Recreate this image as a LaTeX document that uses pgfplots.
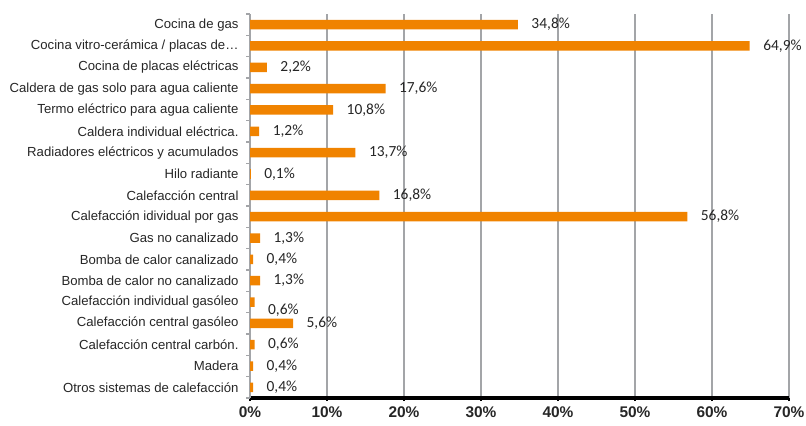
\documentclass[border=0pt]{standalone}
\usepackage{fontspec}
\setmainfont{Liberation Sans}
\newfontfamily\valfont{Carlito}
\usepackage{pgfplots}
\usepackage{pgfplotstable}
\pgfplotsset{compat=1.18}
\definecolor{barorange}{HTML}{F08300}
\definecolor{gridgray}{HTML}{A3A5A8}
\definecolor{txt}{HTML}{262626}

% y = position (top row = 17), x = share in %, dy = vertical nudge of the value label
\pgfplotstableread{
y x dy
17 34.8 0
16 64.9 0
15 2.2 0
14 17.6 0
13 10.8 0
12 1.2 0
11 13.7 0
10 0.1 0
9 16.8 0
8 56.8 0
7 1.3 0
6 0.4 0
5 1.3 0
4 0.6 -8
3 5.6 0
2 0.6 0
1 0.4 0
0 0.4 0
}\datatable

\begin{document}
\begin{tikzpicture}
\begin{axis}[
  scale only axis,
  width=539bp, height=384bp,
  xbar, bar width=9.5bp,
  xmin=0, xmax=70,
  ymin=-0.5, ymax=17.5,
  clip=false,
  axis x line*=bottom,
  axis y line*=left,
  x axis line style={black, line width=4bp, -},
  y axis line style={gridgray, line width=1.5bp, -},
  xmajorgrids,
  grid style={gridgray, line width=1.5bp},
  tick align=outside,
  major tick length=3bp,
  minor tick length=4bp,
  every major x tick/.style={black, line width=1.5bp},
  every major y tick/.style={draw=none},
  every minor y tick/.style={gridgray, line width=1.5bp},
  xtick={0,10,...,70},
  xticklabel={\pgfmathprintnumber{\tick}\%},
  /pgf/number format/assume math mode=true,
  xticklabel style={font=\bfseries\fontsize{15.5}{17}\selectfont, text=txt, yshift=-2bp},
  ytick={0,...,17},
  minor ytick={-0.5,0.5,...,17.5},
  yticklabels={
    Otros sistemas de calefacción,
    Madera,
    Calefacción central carbón.,
    Calefacción central gasóleo,
    Calefacción individual gasóleo,
    Bomba de calor no canalizado,
    Bomba de calor canalizado,
    Gas no canalizado,
    Calefacción idividual por gas,
    Calefacción central,
    Hilo radiante,
    Radiadores eléctricos y acumulados,
    Caldera individual eléctrica.,
    Termo eléctrico para agua caliente,
    Caldera de gas solo para agua caliente,
    Cocina de placas eléctricas,
    Cocina vitro-cerámica / placas de…,
    Cocina de gas},
  yticklabel style={font=\fontsize{13.2}{15}\selectfont, text=txt, xshift=-5bp},
  point meta=x,
  visualization depends on={\thisrow{dy} \as \dy},
  nodes near coords={\pgfmathprintnumber[fixed,fixed zerofill,precision=1,use comma]{\pgfplotspointmeta}\%},
  nodes near coords align={horizontal},
  every node near coord/.append style={anchor=west, font=\valfont\fontsize{15.5}{17}\selectfont,
    text=txt, xshift=10bp, yshift=\dy pt},
]
\addplot[fill=barorange, draw=none] table[x=x, y=y] {\datatable};
\coordinate (sw) at (rel axis cs:0,0);
\coordinate (ne) at (rel axis cs:1,1);
\end{axis}
\pgfresetboundingbox
\path ([shift={(-250bp,-27bp)}]sw) rectangle ([shift={(17bp,14bp)}]ne);
\end{tikzpicture}
\end{document}
